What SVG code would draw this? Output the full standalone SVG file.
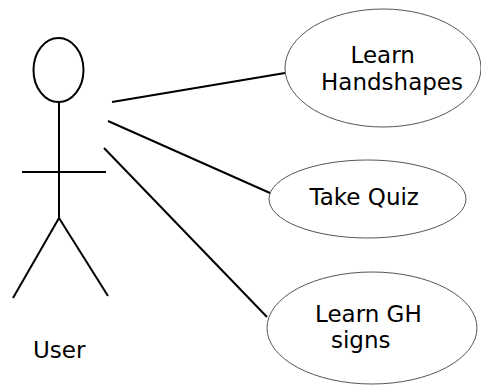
<svg xmlns="http://www.w3.org/2000/svg" width="481" height="385" viewBox="0 0 481 385">
<style>
.actor{fill:none;stroke:#000;stroke-width:2}
.uc{fill:#fff;stroke:#555;stroke-width:1}
.conn{stroke:#000;stroke-width:2;fill:none}
text{font-family:"DejaVu Sans",Verdana,sans-serif;font-size:23px;fill:#000}
</style>
<rect width="481" height="385" fill="#fff"/>
<g id="actor-user">
<ellipse class="actor" cx="58.5" cy="70" rx="25" ry="32"/>
<line class="actor" x1="59" y1="102" x2="59" y2="220"/>
<line class="actor" x1="22" y1="172" x2="106" y2="172"/>
<line class="actor" x1="59" y1="218" x2="13" y2="298"/>
<line class="actor" x1="59" y1="218" x2="108" y2="296"/>
<text x="33" y="358" font-size="21">User</text>
</g>
<g id="connectors">
<line class="conn" x1="112" y1="102" x2="285" y2="73"/>
<line class="conn" x1="108" y1="121" x2="270" y2="193"/>
<line class="conn" x1="104" y1="148" x2="267" y2="317"/>
</g>
<g id="uc-handshapes">
<ellipse class="uc" cx="383" cy="68" rx="98" ry="59"/>
<text x="350.5" y="63">Learn</text>
<text x="321" y="90">Handshapes</text>
</g>
<g id="uc-quiz">
<ellipse class="uc" cx="367.5" cy="199" rx="98.5" ry="39"/>
<text x="309.5" y="205">Take Quiz</text>
</g>
<g id="uc-gh">
<ellipse class="uc" cx="372" cy="328" rx="105" ry="56"/>
<text x="315" y="322">Learn GH</text>
<text x="331" y="348">signs</text>
</g>
</svg>
